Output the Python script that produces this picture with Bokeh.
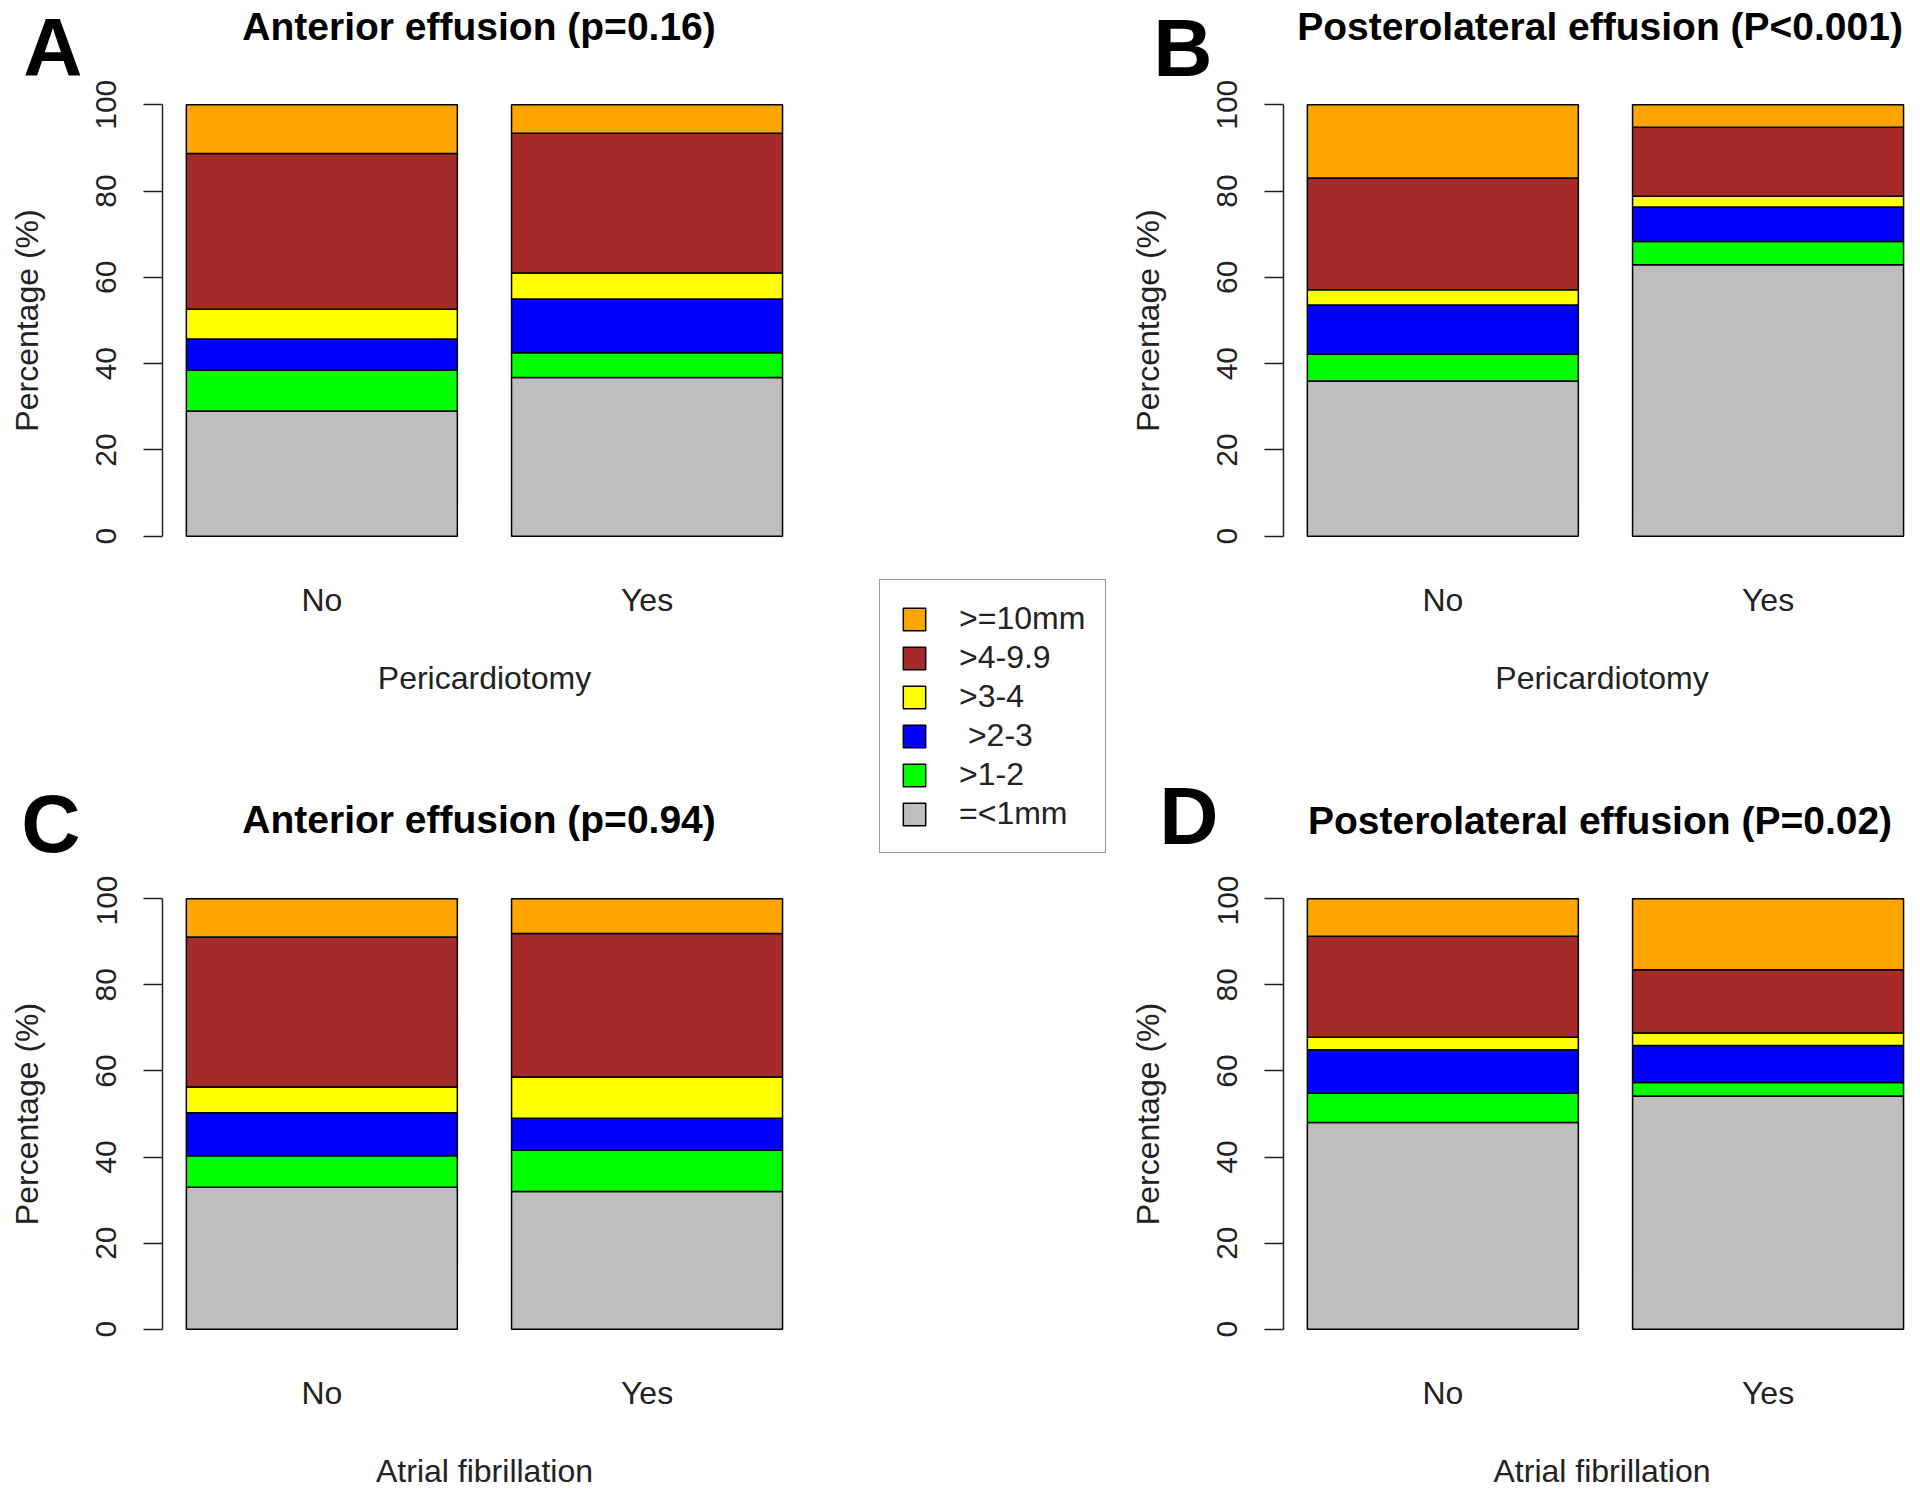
from bokeh.plotting import figure
from bokeh.models import ColumnDataSource, FixedTicker, Label, Legend, LegendItem, Range1d
from bokeh.layouts import row, column
from bokeh.embed import file_html
from bokeh.resources import INLINE

# ---------------- data ----------------
groups = ["No", "Yes"]
classes = ["=<1mm", ">1-2", " >2-3", ">3-4", ">4-9.9", ">=10mm"]   # bottom -> top
colors = ["#BEBEBE", "#00FF00", "#0000FF", "#FFFF00", "#A52A2A", "#FFA500"]

# Panel A: anterior effusion by pericardiotomy (%)
a_no = [29.0, 9.5, 7.2, 6.9, 36.1, 11.3]
a_yes = [36.8, 5.7, 12.5, 6.0, 32.4, 6.6]
# Panel B: posterolateral effusion by pericardiotomy (%)
b_no = [36.0, 6.2, 11.4, 3.5, 25.9, 17.0]
b_yes = [62.9, 5.4, 8.0, 2.5, 16.0, 5.2]
# Panel C: anterior effusion by atrial fibrillation (%)
c_no = [33.0, 7.3, 10.0, 6.0, 34.8, 8.9]
c_yes = [32.0, 9.6, 7.4, 9.6, 33.3, 8.1]
# Panel D: posterolateral effusion by atrial fibrillation (%)
d_no = [48.0, 6.8, 10.1, 2.9, 23.5, 8.7]
d_yes = [54.2, 3.1, 8.6, 2.9, 14.7, 16.5]

y_ticks = [0, 20, 40, 60, 80, 100]

FONT = "Liberation Sans"
TXT = "#222222"
PX_PER_UNIT = 271.0
BAR_X = [0.2 + 0.5 + i * 1.2 for i in range(len(groups))]


def x_range_for(width, b_left, b_right):
    return Range1d(0.112, 0.112 + (width - b_left - b_right) / PX_PER_UNIT)


def header(letter, title, width, height, b_left, b_right,
           letter_y, letter_gap, title_y):
    """Strip above a panel: panel letter (drawn as a left-axis label) + bold title."""
    h = figure(width=width, height=height, x_range=x_range_for(width, b_left, b_right),
               y_range=Range1d(height, 0), output_backend="svg",
               toolbar_location=None, x_axis_location=None,
               min_border_left=b_left, min_border_right=b_right,
               min_border_top=0, min_border_bottom=0)
    h.outline_line_color = None
    h.grid.visible = False
    ax = h.yaxis[0]
    ax.ticker = FixedTicker(ticks=[letter_y])
    ax.major_label_overrides = {letter_y: letter}
    ax.axis_line_color = None
    ax.major_tick_line_color = None
    ax.minor_tick_line_color = None
    ax.major_tick_out = 0
    ax.major_tick_in = 0
    ax.major_label_orientation = "horizontal"
    ax.major_label_standoff = letter_gap
    ax.major_label_text_font = FONT
    ax.major_label_text_font_size = "82px"
    ax.major_label_text_font_style = "bold"
    ax.major_label_text_color = "black"
    h.add_layout(Label(x=sum(BAR_X) / len(BAR_X), y=title_y, text=title,
                       text_font=FONT, text_font_size="39px",
                       text_font_style="bold", text_color="black",
                       text_align="center", text_baseline="middle"))
    return h


def panel(xlabel, no_vals, yes_vals, width, height, b_left, b_right, b_top, b_bottom):
    keys = ["s%d" % i for i in range(len(classes))]
    data = {"x": BAR_X}
    for i, k in enumerate(keys):
        data[k] = [no_vals[i], yes_vals[i]]
    src = ColumnDataSource(data)
    p = figure(width=width, height=height,
               x_range=x_range_for(width, b_left, b_right),
               y_range=Range1d(-4, 104),
               output_backend="svg", toolbar_location=None,
               min_border_left=b_left, min_border_right=b_right,
               min_border_top=b_top, min_border_bottom=b_bottom)
    p.outline_line_color = None
    p.xgrid.visible = False
    p.ygrid.visible = False
    p.vbar_stack(keys, x="x", width=1.0, source=src, fill_color=colors,
                 line_color="black", line_width=1.5)

    ya = p.yaxis[0]
    ya.ticker = FixedTicker(ticks=y_ticks)
    ya.bounds = (0, 100)
    ya.axis_line_width = 1.5
    ya.axis_line_color = "#222222"
    ya.major_tick_line_width = 1.5
    ya.major_tick_line_color = "#222222"
    ya.major_tick_out = 19
    ya.major_tick_in = 0
    ya.minor_tick_line_color = None
    ya.major_label_orientation = "parallel"
    ya.major_label_standoff = 27
    ya.major_label_text_font = FONT
    ya.major_label_text_font_size = "30px"
    ya.major_label_text_color = TXT
    ya.axis_label = "Percentage (%)"
    ya.axis_label_text_font = FONT
    ya.axis_label_text_font_size = "32px"
    ya.axis_label_text_font_style = "normal"
    ya.axis_label_text_color = TXT
    ya.axis_label_standoff = 49

    xa = p.xaxis[0]
    xa.ticker = FixedTicker(ticks=BAR_X)
    xa.major_label_overrides = {BAR_X[i]: groups[i] for i in range(len(groups))}
    xa.axis_line_color = None
    xa.major_tick_line_color = None
    xa.minor_tick_line_color = None
    xa.major_tick_out = 0
    xa.major_tick_in = 0
    xa.major_label_standoff = 28
    xa.major_label_text_font = FONT
    xa.major_label_text_font_size = "32px"
    xa.major_label_text_color = TXT
    xa.axis_label = xlabel
    xa.axis_label_text_font = FONT
    xa.axis_label_text_font_size = "32px"
    xa.axis_label_text_font_style = "normal"
    xa.axis_label_text_color = TXT
    xa.axis_label_standoff = 39
    return p


# left column (width 868), right column (width 802)
ha = header("A", "Anterior  effusion (p=0.16)", 868, 77, 162, 62, 45, 80, 25.5)
pa = panel("Pericardiotomy", a_no, a_yes, 868, 683, 162, 62, 10, 207)
hc = header("C", "Anterior  effusion (p=0.94)", 868, 115, 162, 62, 76, 82, 59)
pc = panel("Atrial fibrillation", c_no, c_yes, 868, 618, 162, 62, 6, 147)

hb = header("B", "Posterolateral  effusion (P<0.001)", 802, 77, 165, 0, 44, 71, 25.5)
pb = panel("Pericardiotomy", b_no, b_yes, 802, 683, 165, 0, 10, 207)
hd = header("D", "Posterolateral  effusion (P=0.02)", 802, 115, 165, 0, 84, 65, 60)
pd = panel("Atrial fibrillation", d_no, d_yes, 802, 618, 165, 0, 6, 147)

# legend column
lf = figure(width=250, height=1493, x_range=Range1d(0, 1), y_range=Range1d(0, 1),
            output_backend="svg", toolbar_location=None,
            x_axis_location=None, y_axis_location=None,
            min_border_left=0, min_border_right=0, min_border_top=0, min_border_bottom=0)
lf.outline_line_color = None
lf.grid.visible = False
items = []
for name, col in reversed(list(zip(classes, colors))):
    # tiny swatch source hidden behind the legend box (only its legend glyph shows)
    r = lf.vbar(x=[0.5], bottom=[0.5], top=[0.5001], width=0.001, fill_color=col,
                line_color="black", line_width=1.5)
    items.append(LegendItem(label=name, renderers=[r]))
leg = Legend(items=items, location=(11, 640), glyph_width=28, glyph_height=28,
             label_height=22, spacing=2, label_standoff=31, padding=20, margin=0,
             label_text_font=FONT, label_text_font_size="32px", label_text_color=TXT,
             border_line_color="#333333", border_line_width=1.5,
             background_fill_color="white", background_fill_alpha=1.0)
lf.add_layout(leg, "center")

layout = row(column(ha, pa, hc, pc), lf, column(hb, pb, hd, pd))
open("out.html", "w").write(file_html(layout, INLINE))
